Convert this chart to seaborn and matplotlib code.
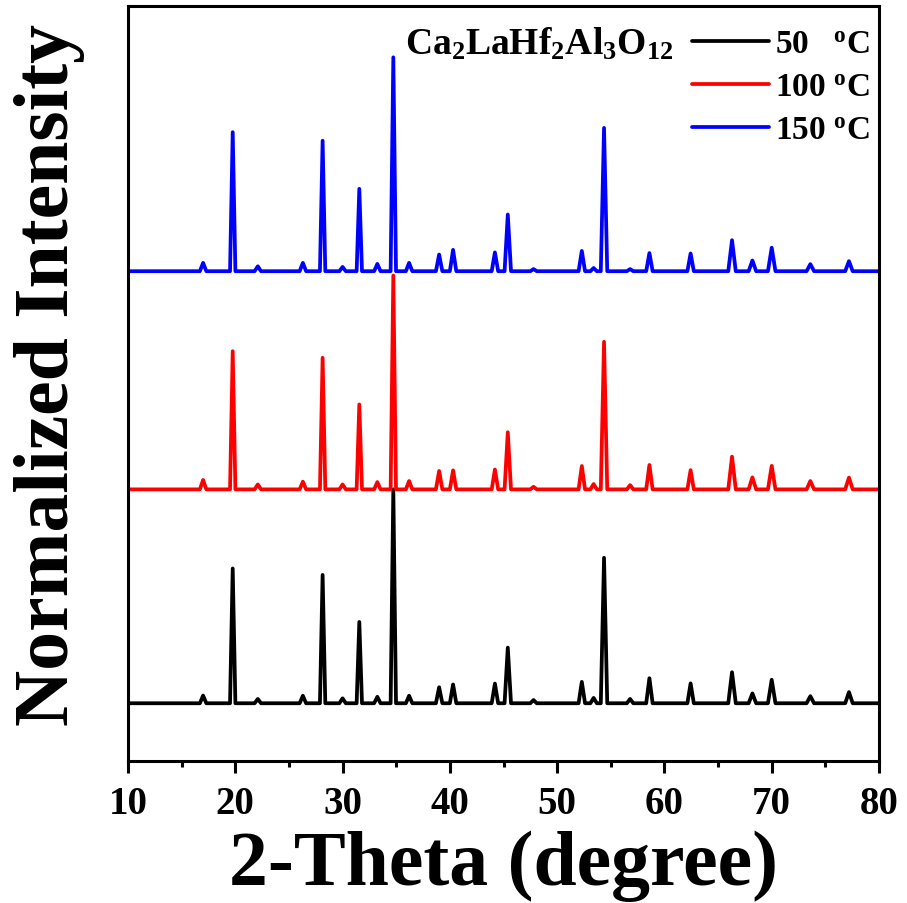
import numpy as np
import pandas as pd
import matplotlib
matplotlib.use("Agg")
import matplotlib.pyplot as plt
import seaborn as sns
from matplotlib.lines import Line2D

# ---- data ----
peak_pos = [17.0, 19.76, 22.1, 26.3, 28.14, 30.0, 31.56, 33.24, 34.73, 36.2,
            39.0, 40.3, 44.2, 45.4, 47.8, 52.3, 53.4, 54.37, 56.8, 58.6,
            62.44, 66.3, 68.2, 70.0, 73.6, 77.2]
peak_halfwidth = [0.3, 0.25, 0.3, 0.3, 0.25, 0.3, 0.25, 0.3, 0.25, 0.3,
                  0.3, 0.3, 0.3, 0.3, 0.3, 0.3, 0.3, 0.3, 0.3, 0.3,
                  0.3, 0.35, 0.35, 0.35, 0.35, 0.35]
h_50 = [0.036, 0.63, 0.02, 0.035, 0.60, 0.023, 0.38, 0.03, 1.0, 0.035,
        0.075, 0.088, 0.092, 0.26, 0.015, 0.10, 0.025, 0.68, 0.02, 0.117,
        0.093, 0.145, 0.046, 0.11, 0.033, 0.052]
h_100 = [0.044, 0.646, 0.023, 0.036, 0.615, 0.023, 0.397, 0.034, 1.0, 0.039,
         0.086, 0.089, 0.093, 0.267, 0.012, 0.109, 0.025, 0.69, 0.02, 0.114,
         0.09, 0.153, 0.056, 0.11, 0.039, 0.055]
h_150 = [0.039, 0.65, 0.023, 0.039, 0.61, 0.02, 0.385, 0.034, 1.0, 0.039,
         0.078, 0.10, 0.088, 0.265, 0.01, 0.095, 0.015, 0.67, 0.01, 0.085,
         0.083, 0.145, 0.05, 0.11, 0.033, 0.047]
offsets = [0.0, 1.0, 2.02]
labels = ["50   $^{o}$C", "100 $^{o}$C", "150 $^{o}$C"]
colors = ["#000000", "#ff0000", "#0000ff"]
xlim = (10, 80)
xticks = [10, 20, 30, 40, 50, 60, 70, 80]
formula = r"Ca$_{2}$LaHf$_{2}$Al$_{3}$O$_{12}$"

sns.set_theme(style="ticks")
plt.rcParams["font.family"] = ["Liberation Serif", "DejaVu Serif"]
plt.rcParams["font.weight"] = "bold"
plt.rcParams["text.color"] = "black"
plt.rcParams["axes.labelcolor"] = "black"
plt.rcParams["xtick.color"] = "black"
plt.rcParams["ytick.color"] = "black"
plt.rcParams["mathtext.fontset"] = "custom"
plt.rcParams["mathtext.rm"] = "Liberation Serif:bold"
plt.rcParams["mathtext.it"] = "Liberation Serif:bold"
plt.rcParams["mathtext.bf"] = "Liberation Serif:bold"
plt.rcParams["mathtext.default"] = "rm"


def build_profile(heights, off):
    xs = [xlim[0]]
    ys = [off]
    for c, w, h in zip(peak_pos, peak_halfwidth, heights):
        xs += [c - w, c, c + w]
        ys += [off, off + h, off]
    xs.append(xlim[1])
    ys.append(off)
    return xs, ys


frames = []
for lab, hs, off in zip(labels, [h_50, h_100, h_150], offsets):
    xs, ys = build_profile(hs, off)
    frames.append(pd.DataFrame({"x": xs, "y": ys, "series": lab}))
df = pd.concat(frames, ignore_index=True)

fig = plt.figure(figsize=(9.07, 9.04), dpi=100)
ax = fig.add_axes([128 / 907, 1 - 762 / 904, (879 - 128) / 907, (762 - 7) / 904])

sns.lineplot(data=df, x="x", y="y", hue="series", palette=dict(zip(labels, colors)),
             estimator=None, sort=False, linewidth=2.7, ax=ax, legend=False)

ax.set_xlim(*xlim)
ax.set_ylim(-0.27, 3.26)
ax.set_xticks(xticks)
ax.set_xticks([15, 25, 35, 45, 55, 65, 75], minor=True)
ax.set_yticks([])
ax.tick_params(axis="x", which="major", direction="out", length=8.6, width=2.2,
               labelsize=28, pad=9)
ax.tick_params(axis="x", which="minor", direction="out", length=4.3, width=2.2)
for lbl in ax.get_xticklabels():
    lbl.set_fontweight("bold")
for sp in ax.spines.values():
    sp.set_visible(True)
    sp.set_linewidth(2.2)
    sp.set_color("black")

ax.set_xlabel("2-Theta (degree)", fontsize=56, fontweight="bold", labelpad=5)
ax.set_ylabel("Normalized Intensity", fontsize=56, fontweight="bold", labelpad=31)
ax.yaxis.label.set_y(0.512)

handles = [Line2D([], [], color=c, lw=2.7) for c in colors]
leg = ax.legend(handles, labels, loc="upper right", frameon=False,
                fontsize=24, handlelength=2.3, handletextpad=0.2,
                labelspacing=0.36, borderaxespad=0.27, borderpad=0.0,
                bbox_to_anchor=(1.0, 0.9815))
for t in leg.get_texts():
    t.set_fontweight("bold")

ax.text((405 - 128) / 751, (762 - 55) / 755, formula, transform=ax.transAxes,
        fontsize=27, fontweight="bold", va="baseline", ha="left")

fig.savefig("out.png", dpi=100, facecolor="white")
